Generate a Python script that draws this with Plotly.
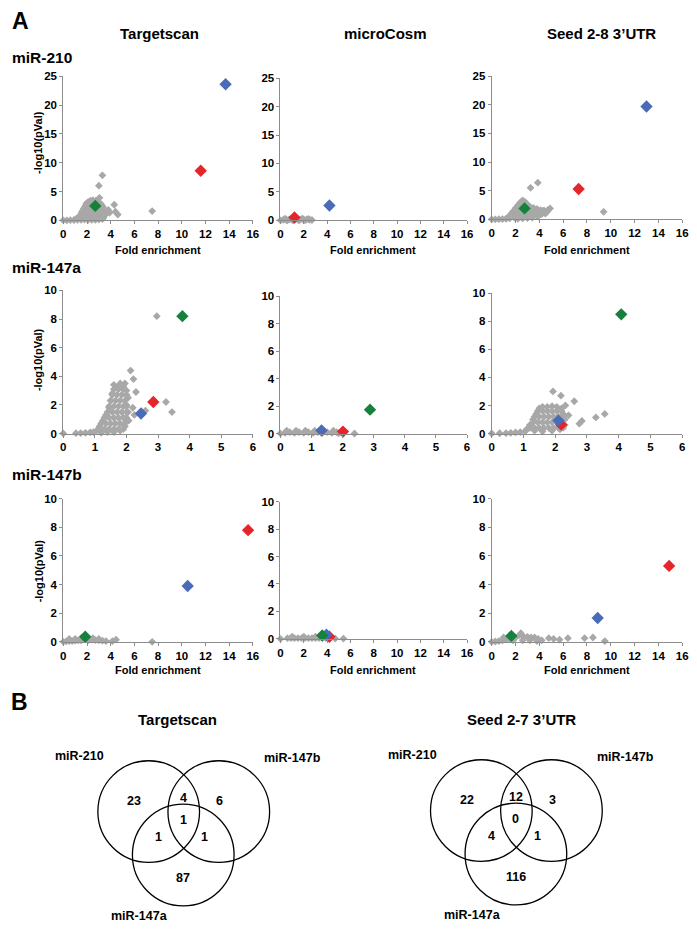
import plotly.graph_objects as go

W, H = 697, 929
# the page body adds an 8px margin; positions below are given in screen pixels
OFF = 8


def px(x):
    return (x - OFF) / W


def py(y):
    return 1 - (y - OFF) / H


# ---------------- DATA ----------------
col_titles = ["Targetscan", "microCosm", "Seed 2-8 3\u2019UTR"]
row_titles = ["miR-210", "miR-147a", "miR-147b"]
x_title = "Fold enrichment"
y_title = "-log10(pVal)"

row_x_max = [16, 6, 16]
row_x_dtick = [2, 1, 2]
row_y_max = [25, 10, 10]
row_y_dtick = [5, 2, 2]

# highlighted genes, order: red, blue, green
hl_colors = ["#E4262B", "#4A6BB5", "#16803D"]

# ---- miR-210 ----
ts210_gray_x = [0, 0.3, 0.6, 0.9, 1.2, 1.5, 1.8, 2.1, 2.4, 2.7, 3.0, 3.3,
                1.1, 1.3, 1.45, 1.55, 1.65, 1.75, 1.85, 1.95, 2.1, 2.3, 2.5, 2.75, 2.95, 3.15, 3.3, 3.45, 3.55, 3.6, 3.45, 3.2,
                1.4, 1.8, 2.2, 2.6, 3.0, 3.4,
                1.5, 1.9, 2.3, 2.7, 3.1, 3.5,
                1.6, 2.0, 2.4, 2.8, 3.2, 3.6,
                1.75, 2.15, 2.55, 2.95, 3.35, 3.8, 3.9,
                1.9, 2.3, 2.7, 3.1,
                2.05, 2.45, 2.85,
                3.3, 3.0, 3.05, 4.3, 4.4, 4.6, 7.5]
ts210_gray_y = [0, 0, 0.02, 0.05, 0.1, 0.1, 0.12, 0.1, 0.1, 0.1, 0.12, 0.2,
                0.3, 0.5, 0.9, 1.3, 1.7, 2.1, 2.5, 2.9, 3.2, 3.4, 3.5, 3.4, 3.2, 2.9, 2.5, 2.0, 1.6, 1.2, 0.8, 0.5,
                0.5, 0.5, 0.5, 0.5, 0.5, 0.5,
                1.0, 1.0, 1.0, 1.0, 1.0, 1.0,
                1.5, 1.5, 1.5, 1.5, 1.5, 1.5,
                2.0, 2.0, 2.0, 2.0, 2.0, 1.8, 1.3,
                2.5, 2.5, 2.5, 2.5,
                3.0, 3.0, 3.0,
                7.8, 6.0, 3.9, 2.7, 1.5, 1.0, 1.6]
ts210_hl_x = [11.6, 13.7, 2.7]
ts210_hl_y = [8.6, 23.6, 2.5]

mc210_gray_x = [0, 0.25, 0.5, 0.75, 1.0, 1.25, 1.5, 1.75, 2.0, 2.25, 2.5, 2.7,
                0.4, 0.9, 1.4, 1.9, 2.4, 0.6, 1.1, 1.6, 2.1]
mc210_gray_y = [0, 0.1, 0.05, 0.15, 0.1, 0.2, 0.1, 0.2, 0.1, 0.15, 0.1, 0.05,
                0.3, 0.3, 0.3, 0.3, 0.25, 0, 0, 0, 0]
mc210_hl_x = [1.2, 4.2, None]
mc210_hl_y = [0.5, 2.6, None]

sd210_gray_x = [0, 0.3, 0.6, 0.9, 1.2, 1.5,
                1.4, 1.6, 1.8, 2.0, 2.2, 2.4, 2.6, 2.8, 3.0, 3.2, 3.5, 3.8, 4.1, 4.4, 4.7, 4.9, 4.6, 4.2, 3.8, 3.4, 3.0, 2.6, 2.2, 1.9,
                1.5, 1.9, 2.3, 2.7, 3.1, 3.5, 3.9,
                1.7, 2.1, 2.5, 2.9, 3.3, 3.7, 4.1, 4.5,
                1.9, 2.3, 2.7, 3.1, 3.5, 3.9, 4.3, 4.7,
                2.05, 2.45, 2.85, 3.25,
                2.25, 2.65, 3.0,
                2.45, 2.8,
                3.26, 3.87, 9.4, 4.56]
sd210_gray_y = [0, 0, 0.02, 0.05, 0.1, 0.15,
                0.4, 0.9, 1.4, 1.9, 2.4, 2.9, 3.3, 3.0, 2.6, 2.2, 2.0, 1.8, 1.6, 1.5, 1.6, 1.9, 1.2, 0.9, 0.6, 0.3, 0.2, 0.15, 0.1, 0.3,
                0.5, 0.5, 0.5, 0.5, 0.5, 0.5, 0.5,
                1.0, 1.0, 1.0, 1.0, 1.0, 1.0, 1.0, 1.0,
                1.5, 1.5, 1.5, 1.5, 1.5, 1.5, 1.5, 1.5,
                2.0, 2.0, 2.0, 2.0,
                2.5, 2.5, 2.5,
                3.0, 3.0,
                5.5, 6.4, 1.3, 1.2]
sd210_hl_x = [7.3, 13.0, 2.76]
sd210_hl_y = [5.3, 19.7, 1.9]

# ---- miR-147a ----
ts147a_gray_x = [0, 0.4, 0.55, 0.7, 0.85, 0.95,
                 1.05, 1.15, 1.25, 1.35, 1.45, 1.5, 1.55, 1.6, 1.7, 1.8, 1.9, 1.95, 2.0, 2.05, 2.0, 2.05, 2.0, 1.95, 1.8, 1.6, 1.4, 1.2,
                 1.15, 1.3, 1.45, 1.6, 1.75, 1.9,
                 1.2, 1.35, 1.5, 1.65, 1.8, 1.95,
                 1.3, 1.45, 1.6, 1.75, 1.9, 2.0,
                 1.4, 1.55, 1.7, 1.85, 2.0,
                 1.45, 1.6, 1.75, 1.9, 2.0,
                 1.5, 1.65, 1.8, 1.95,
                 1.55, 1.7, 1.85, 2.0,
                 1.6, 1.75, 1.9,
                 2.96, 2.13, 2.22, 2.3, 3.25, 3.44, 2.2, 2.07, 2.25, 2.6]
ts147a_gray_y = [0, 0.02, 0.03, 0.05, 0.08, 0.1,
                 0.2, 0.5, 0.9, 1.3, 1.8, 2.3, 2.8, 3.4, 3.2, 3.5, 3.3, 3.5, 3.0, 2.5, 2.0, 1.5, 1.0, 0.5, 0.2, 0.1, 0.1, 0.05,
                 0.3, 0.3, 0.3, 0.3, 0.3, 0.3,
                 0.7, 0.7, 0.7, 0.7, 0.7, 0.7,
                 1.1, 1.1, 1.1, 1.1, 1.1, 1.1,
                 1.5, 1.5, 1.5, 1.5, 1.5,
                 1.9, 1.9, 1.9, 1.9, 1.9,
                 2.3, 2.3, 2.3, 2.3,
                 2.7, 2.7, 2.7, 2.7,
                 3.1, 3.1, 3.1,
                 8.2, 4.4, 3.8, 2.9, 2.2, 1.5, 1.8, 0.9, 1.3, 1.6]
ts147a_hl_x = [2.85, 2.46, 3.77]
ts147a_hl_y = [2.2, 1.4, 8.2]

mc147a_gray_x = [0, 0.15, 0.3, 0.45, 0.6, 0.75, 0.9, 1.05, 1.2, 1.35, 1.5, 1.65, 1.8, 1.87, 2.38,
                 0.2, 0.5, 0.8, 1.1, 1.4, 1.7]
mc147a_gray_y = [0, 0.05, 0.1, 0.05, 0.1, 0.05, 0.1, 0.05, 0.1, 0.05, 0.1, 0.05, 0.1, 0.02, 0,
                 0.2, 0.2, 0.2, 0.2, 0.2, 0.2]
mc147a_hl_x = [2.01, 1.32, 2.88]
mc147a_hl_y = [0.14, 0.22, 1.74]

sd147a_gray_x = [0, 0.25, 0.45, 0.6, 0.75, 0.9, 1.05,
                 1.1, 1.2, 1.3, 1.4, 1.5, 1.6, 1.75, 1.9, 2.05, 2.2, 2.25, 2.3, 2.3, 2.15, 1.9, 1.6, 1.35,
                 1.2, 1.35, 1.5, 1.65, 1.8, 1.95, 2.1, 2.25,
                 1.3, 1.45, 1.6, 1.75, 1.9, 2.05, 2.2,
                 1.35, 1.5, 1.65, 1.8, 1.95, 2.1, 2.25,
                 1.45, 1.6, 1.75, 1.9, 2.05, 2.2,
                 1.93, 2.18, 2.32, 2.6, 2.84, 2.76, 3.28, 3.56, 2.42]
sd147a_gray_y = [0, 0.02, 0.03, 0.05, 0.08, 0.1, 0.15,
                 0.3, 0.6, 1.0, 1.4, 1.8, 1.9, 1.9, 1.95, 1.9, 1.8, 1.4, 1.0, 0.6, 0.3, 0.2, 0.15, 0.2,
                 0.4, 0.4, 0.4, 0.4, 0.4, 0.4, 0.4, 0.4,
                 0.8, 0.8, 0.8, 0.8, 0.8, 0.8, 0.8,
                 1.2, 1.2, 1.2, 1.2, 1.2, 1.2, 1.2,
                 1.6, 1.6, 1.6, 1.6, 1.6, 1.6,
                 3.0, 2.7, 2.0, 2.3, 0.9, 0.7, 1.15, 1.4, 1.3]
sd147a_hl_x = [2.19, 2.1, 4.08]
sd147a_hl_y = [0.63, 0.92, 8.5]

# ---- miR-147b ----
ts147b_gray_x = [0, 0.25, 0.5, 0.75, 1.0, 1.25, 1.5, 2.1, 2.4, 2.7, 3.0, 3.3, 3.6, 4.15, 4.45, 7.5,
                 0.5, 1.0, 1.5, 2.5, 3.0]
ts147b_gray_y = [0, 0.03, 0.05, 0.05, 0.08, 0.1, 0.1, 0.1, 0.15, 0.12, 0.1, 0.08, 0.05, 0.05, 0.15, 0,
                 0.2, 0.2, 0.25, 0.25, 0.2]
ts147b_hl_x = [15.6, 10.5, 1.85]
ts147b_hl_y = [7.8, 3.9, 0.35]

mc147b_gray_x = [0, 0.6, 0.9, 1.2, 1.5, 1.8, 2.1, 2.4, 2.7, 3.0, 3.3, 3.6, 3.9, 4.7, 5.4,
                 1.0, 2.0, 3.0]
mc147b_gray_y = [0, 0.05, 0.05, 0.05, 0.05, 0.05, 0.05, 0.05, 0.05, 0.05, 0.05, 0.05, 0.05, 0.02, 0.02,
                 0.15, 0.15, 0.15]
mc147b_hl_x = [4.2, 3.94, 3.58]
mc147b_hl_y = [0.15, 0.3, 0.25]

sd147b_gray_x = [0, 0.3, 0.6, 0.9, 1.2, 1.5, 2.0, 2.3, 2.45, 2.7, 3.0, 3.3, 3.6, 3.9, 4.2,
                 4.8, 5.2, 5.7, 6.4, 7.8, 8.5, 9.5, 1.0, 1.8, 2.6, 3.2, 3.8]
sd147b_gray_y = [0, 0.02, 0.05, 0.1, 0.15, 0.2, 0.3, 0.45, 0.6, 0.35, 0.35, 0.3, 0.3, 0.2, 0.1,
                 0.25, 0.2, 0.15, 0.25, 0.25, 0.3, 0.05, 0.3, 0.1, 0.1, 0.1, 0.05]
sd147b_hl_x = [14.9, 8.9, 1.65]
sd147b_hl_y = [5.3, 1.66, 0.41]

panels = [
    [(ts210_gray_x, ts210_gray_y, ts210_hl_x, ts210_hl_y),
     (mc210_gray_x, mc210_gray_y, mc210_hl_x, mc210_hl_y),
     (sd210_gray_x, sd210_gray_y, sd210_hl_x, sd210_hl_y)],
    [(ts147a_gray_x, ts147a_gray_y, ts147a_hl_x, ts147a_hl_y),
     (mc147a_gray_x, mc147a_gray_y, mc147a_hl_x, mc147a_hl_y),
     (sd147a_gray_x, sd147a_gray_y, sd147a_hl_x, sd147a_hl_y)],
    [(ts147b_gray_x, ts147b_gray_y, ts147b_hl_x, ts147b_hl_y),
     (mc147b_gray_x, mc147b_gray_y, mc147b_hl_x, mc147b_hl_y),
     (sd147b_gray_x, sd147b_gray_y, sd147b_hl_x, sd147b_hl_y)],
]

# Venn diagrams (B)
venn_titles = ["Targetscan", "Seed 2-7 3\u2019UTR"]
venn_sets = ["miR-210", "miR-147b", "miR-147a"]
# regions: 210 only, 210&147b, 147b only, all, 210&147a, 147b&147a, 147a only
ts_venn_counts = [23, 4, 6, 1, 1, 1, 87]
seed_venn_counts = [22, 12, 3, 0, 4, 1, 116]

# ---------------- LAYOUT GEOMETRY (screen pixels) ----------------
col_x = [(61, 253), (281, 470), (495, 688)]
row_y = [
    [(71, 217), (73, 217), (71, 216)],
    [(288, 433), (294, 433), (291, 433)],
    [(499, 644), (502, 641), (499, 644)],
]

FONT = "Liberation Sans, Arial, sans-serif"
AX = "#8C8C8C"
GRAY = "#A8A8A8"

fig = go.Figure()
layout = dict(
    width=W, height=H, autosize=False,
    margin=dict(l=0, r=0, t=0, b=0),
    paper_bgcolor="white", plot_bgcolor="white",
    showlegend=False,
    font=dict(family=FONT, size=11, color="black", weight="bold"),
)

k = 0
for r in range(3):
    for c in range(3):
        k += 1
        gx, gy, hx, hy = panels[r][c]
        xa = "x" if k == 1 else f"x{k}"
        ya = "y" if k == 1 else f"y{k}"
        fig.add_trace(go.Scatter(
            x=gx, y=gy, mode="markers", xaxis=xa, yaxis=ya, cliponaxis=False,
            marker=dict(symbol="diamond", size=6, color=GRAY, line=dict(width=0)),
            hoverinfo="skip"))
        fig.add_trace(go.Scatter(
            x=hx, y=hy, mode="markers", xaxis=xa, yaxis=ya, cliponaxis=False,
            marker=dict(symbol="diamond", size=9.5, color=hl_colors, line=dict(width=0)),
            hoverinfo="skip"))
        x0, x1 = col_x[c]
        y0, y1 = row_y[r][c]
        axcommon = dict(showgrid=False, zeroline=False, showline=True, linecolor=AX, linewidth=1,
                        ticks="outside", ticklen=3, tickwidth=1, tickcolor=AX,
                        tickfont=dict(family=FONT, size=11.5, color="black", weight="bold"),
                        fixedrange=True)
        layout["xaxis" if k == 1 else f"xaxis{k}"] = dict(
            axcommon, domain=[px(x0), px(x1)], anchor=ya,
            range=[0, row_x_max[r]], dtick=row_x_dtick[r], tick0=0)
        layout["yaxis" if k == 1 else f"yaxis{k}"] = dict(
            axcommon, domain=[py(y1), py(y0)], anchor=xa,
            range=[0, row_y_max[r]], dtick=row_y_dtick[r], tick0=0)

annotations = []


def txt(text, x, y, size=11, xanchor="center", angle=0):
    annotations.append(dict(text=text, x=px(x), y=py(y), xref="paper", yref="paper",
                            showarrow=False, xanchor=xanchor, yanchor="middle", textangle=angle,
                            font=dict(family=FONT, size=size, color="black", weight="bold")))


txt("A", 7, 15, size=23, xanchor="left")
txt("B", 6, 705, size=23, xanchor="left")
for c, (t, xc) in enumerate(zip(col_titles, [158, 387, 606])):
    txt(t, xc, 28, size=15)
for t, yc in zip(row_titles, [52, 265, 475]):
    txt(t, 7, yc, size=15.5, xanchor="left")
for yc in [138, 358, 572]:
    txt(y_title, 36, yc, size=11, angle=-90)
for xc in [157, 375, 592]:
    txt(x_title, xc, 247, size=11)
    txt(x_title, xc, 673, size=11)

shapes = []
R = 51.5
for title, tx, (mx, my), counts in [
        (venn_titles[0], 177, (182.5, 816), ts_venn_counts),
        (venn_titles[1], 525, (519.5, 815), seed_venn_counts)]:
    txt(title, tx, 723, size=15)
    centers = [(mx - 35, my), (mx + 36, my), (mx, my + 44)]
    for (cx, cy) in centers:
        shapes.append(dict(type="circle", xref="paper", yref="paper",
                           x0=px(cx - R), x1=px(cx + R), y0=py(cy + R), y1=py(cy - R),
                           line=dict(color="black", width=1.3), fillcolor="rgba(0,0,0,0)"))
    txt(venn_sets[0], mx - 105, my - 56, size=12.5)
    txt(venn_sets[1], mx + 111, my - 54, size=12.5)
    txt(venn_sets[2], mx - 44, my + 106, size=12.5)
    offs = [(-50, -11), (0, -14), (37, -11), (0, 9), (-25, 26), (22, 26), (0, 67)]
    for n, (ox, oy) in zip(counts, offs):
        txt(str(n), mx + ox, my + oy, size=12.5)

layout["annotations"] = annotations
layout["shapes"] = shapes
fig.update_layout(**layout)
fig.write_html("out.html")
